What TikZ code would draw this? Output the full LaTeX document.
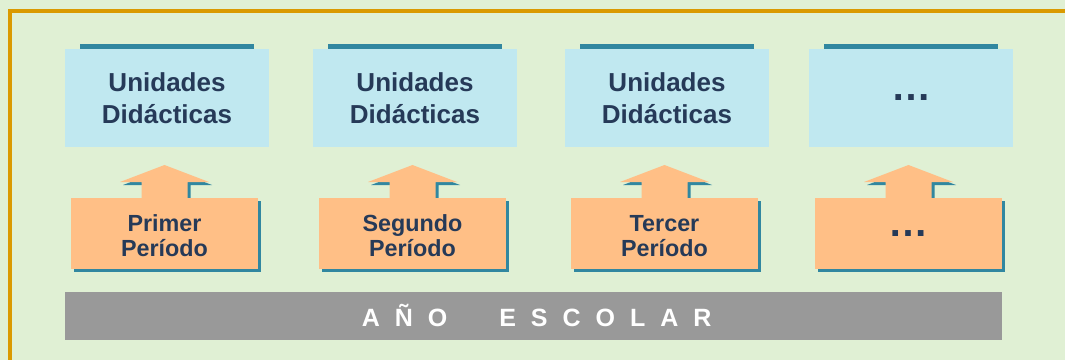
\documentclass[tikz,border=0pt]{standalone}
\usepackage{fontspec}
\setmainfont{Liberation Sans}
\usetikzlibrary{calc,shadows}
\definecolor{fondo}{HTML}{E0F0D4}
\definecolor{marco}{HTML}{DA9A00}
\definecolor{celeste}{HTML}{C0E8F0}
\definecolor{verdeazul}{HTML}{3187A0}
\definecolor{durazno}{HTML}{FFBF86}
\definecolor{gris}{HTML}{999999}
\definecolor{azuloscuro}{HTML}{263A58}
\begin{document}
\begin{tikzpicture}[x=0.75pt, y=-0.75pt,
  unidad/.style={rectangle, fill=celeste, minimum width=153pt, minimum height=73.5pt, inner sep=0pt, outer sep=0pt, align=center, text=azuloscuro, font=\bfseries\fontsize{19.5}{23.8}\selectfont},
  sombra/.style={drop shadow={shadow xshift=2.25pt, shadow yshift=-2.25pt, fill=verdeazul, opacity=1}},
  periodo/.style={rectangle, fill=durazno, sombra, minimum width=140.25pt, minimum height=53.25pt, inner sep=0pt, outer sep=0pt, align=center, text=azuloscuro, font=\bfseries\fontsize{17.5}{19}\selectfont},
  flecha/.style={fill=durazno, sombra},
  barra/.style={fill=verdeazul},
  anio/.style={rectangle, fill=gris, minimum width=702.75pt, minimum height=36pt, inner sep=0pt, outer sep=0pt},
  rotulo/.style={inner sep=0pt, text=white, font=\bfseries\fontsize{18.75}{18.75}\selectfont\addfontfeature{LetterSpace=60}}]
  \useasboundingbox (0,0) rectangle (1065,360);
  \fill[fondo] (0,0) rectangle (1065,360);
  \draw[marco, line width=3pt] (9.5,11) rectangle (1085,385);

  % unidades didacticas
  \node[unidad] (u1) at (167, 98) {Unidades\\Didácticas};
  \node[unidad] (u2) at (415, 98) {Unidades\\Didácticas};
  \node[unidad] (u3) at (667, 98) {Unidades\\Didácticas};
  \node[unidad, font=\bfseries\fontsize{30}{30}\selectfont] (u4) at (911, 98) {\raisebox{-3pt}{…}};
  \fill[barra] ($(u1.north west)+(15,0)$) rectangle ($(u1.north east)+(-15,-5)$);
  \fill[barra] ($(u2.north west)+(15,0)$) rectangle ($(u2.north east)+(-15,-5)$);
  \fill[barra] ($(u3.north west)+(15,0)$) rectangle ($(u3.north east)+(-15,-5)$);
  \fill[barra] ($(u4.north west)+(15,0)$) rectangle ($(u4.north east)+(-15,-5)$);

  % flechas hacia arriba
  \coordinate (b1) at (164.5, 198);
  \coordinate (b2) at (412.5, 198);
  \coordinate (b3) at (664.5, 198);
  \coordinate (b4) at (908.5, 198);
  \path[flecha, shift={(b1)}] (0,-33) -- (44.5,-16) -- (23,-16) -- (23,2) -- (-23,2) -- (-23,-16) -- (-44.5,-16) -- cycle;
  \path[flecha, shift={(b2)}] (0,-33) -- (44.5,-16) -- (23,-16) -- (23,2) -- (-23,2) -- (-23,-16) -- (-44.5,-16) -- cycle;
  \path[flecha, shift={(b3)}] (0,-33) -- (44.5,-16) -- (23,-16) -- (23,2) -- (-23,2) -- (-23,-16) -- (-44.5,-16) -- cycle;
  \path[flecha, shift={(b4)}] (0,-33) -- (44.5,-16) -- (23,-16) -- (23,2) -- (-23,2) -- (-23,-16) -- (-44.5,-16) -- cycle;

  % periodos
  \node[periodo, anchor=north, text height=34.5pt] (p1) at (b1) {Primer\\Período};
  \node[periodo, anchor=north, text height=34.5pt] (p2) at (b2) {Segundo\\Período};
  \node[periodo, anchor=north, text height=34.5pt] (p3) at (b3) {Tercer\\Período};
  \node[periodo, anchor=north, font=\bfseries\fontsize{30}{30}\selectfont] (p4) at (b4) {\raisebox{-4.5pt}{…}};

  % año escolar
  \node[anio] (ano) at (533.5, 316) {};
  \node[rotulo, anchor=base west] (rot) at ($(ano.west)+(296.5,10)$) {AÑO\hspace{39pt}ESCOLAR};
\end{tikzpicture}
\end{document}
